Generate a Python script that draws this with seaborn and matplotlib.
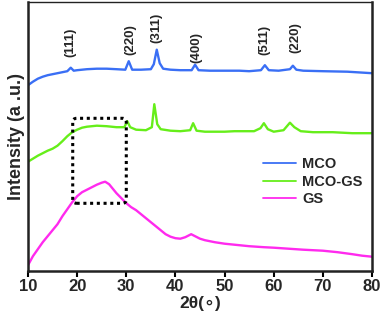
import numpy as np
import pandas as pd
import matplotlib
matplotlib.use("Agg")
import matplotlib.pyplot as plt
import seaborn as sns
from matplotlib.patches import FancyBboxPatch

# XRD patterns (2theta in degrees, intensity in arbitrary units, offsets included)
mco_x = [10, 11, 12, 13, 14, 15, 16, 17, 18, 18.7, 19.3, 20, 22, 24, 26, 28, 29.8, 30.5, 31.2,
         33, 35, 35.6, 36.2, 36.8, 37.5, 39, 41, 43.3, 44, 44.7, 47, 50, 53, 55, 57.4, 58.2,
         59, 61, 63.3, 63.9, 64.6, 66, 70, 75, 80]
mco_y = [187.5, 191, 194, 196, 197.5, 198.5, 199.5, 200.5, 201.5, 205, 202, 202.5, 203.5, 204,
         204, 203.5, 203, 211.5, 203, 203, 203.5, 208.5, 223, 209.5, 204, 203, 202.5, 202.5,
         208, 202.5, 202, 202, 202, 201.5, 202.5, 207.5, 202.5, 202, 203.5, 207, 203, 202,
         201.5, 201, 199.5]

mcogs_x = [10, 11, 12, 13, 14, 15, 16, 17, 18, 19, 20, 21, 22, 24, 26, 28, 29.6, 30.2, 30.8,
           32, 34, 35.2, 35.7, 36.3, 37, 39, 41, 43, 43.6, 44.3, 46, 48, 50, 52, 54, 56, 57.3,
           58, 58.8, 60, 62, 63.3, 64.2, 65.5, 68, 72, 76, 80]
mcogs_y = [111, 114, 117, 119.5, 122, 124, 127, 131.5, 136.5, 140.5, 143, 145, 146, 147, 146.5,
           145.5, 145.5, 151.5, 145.5, 143, 142.5, 145.5, 168.5, 148.5, 143.5, 142, 141.5,
           142.5, 149.5, 142, 141, 141, 141, 141.5, 141.5, 141.5, 144.5, 149.5, 143.5, 141,
           142.5, 150, 145.5, 141.5, 140.5, 140.5, 139.5, 139.5]

gs_x = [10, 11, 12, 13, 14, 15, 16, 17, 18, 19, 20, 21, 22, 23, 24, 25, 25.7, 26.5, 27, 28,
        29, 30, 31, 32, 33, 34, 35, 36, 37, 38, 39, 40, 41, 42, 43.2, 44, 45, 46, 47, 48, 50,
        52, 55, 58, 60, 63, 66, 70, 73, 76, 78, 80]
gs_y = [7.5, 16.5, 23.5, 30.5, 36.5, 42.5, 48.5, 56.5, 63.5, 70.5, 76.5, 80.5, 83, 85.5, 88,
        90, 91, 88.5, 85.5, 79.5, 74.5, 69.5, 65.5, 62.5, 58.5, 54.5, 50.5, 46.5, 42.5, 38.5,
        36, 34.5, 34, 35.5, 38.5, 36.5, 34, 32.5, 31.5, 30.5, 29, 28, 26.5, 25.5, 25, 24, 23,
        22, 20.5, 18.5, 17, 16]

# peak labels
peak_labels = ["(111)", "(220)", "(311)", "(400)", "(511)", "(220)"]
peak_pos = [18.7, 30.8, 36.2, 44.2, 58.2, 64.5]
label_base = [215.7, 217.7, 229.7, 209.7, 217.7, 219.7]

df = pd.concat([
    pd.DataFrame({"theta": mco_x, "I": mco_y, "sample": "MCO"}),
    pd.DataFrame({"theta": mcogs_x, "I": mcogs_y, "sample": "MCO-GS"}),
    pd.DataFrame({"theta": gs_x, "I": gs_y, "sample": "GS"}),
])
colors = {"MCO": "#3a6ff5", "MCO-GS": "#66ee1a", "GS": "#ff2aee"}

sns.set_style("white")
plt.rcParams["font.family"] = ["Liberation Sans", "DejaVu Sans"]
plt.rcParams["font.weight"] = "bold"

fig = plt.figure(figsize=(3.84, 3.22), dpi=100)
ax = fig.add_axes([28/384, 51/322, 344/384, 269/322])

sns.lineplot(data=df, x="theta", y="I", hue="sample", palette=colors, sort=False,
             estimator=None, linewidth=1.7, ax=ax)

for lab, px, py in zip(peak_labels, peak_pos, label_base):
    ax.text(px, py, lab, rotation=90, ha="center", va="bottom", fontsize=9.5, fontweight="bold")

box = FancyBboxPatch((19.1, 69.4), 10.9, 85.0, boxstyle="round,pad=0,rounding_size=0.8",
                     mutation_aspect=4.9, fill=False, edgecolor="black", linewidth=2.2,
                     linestyle=(0, (1, 1.2)), zorder=5)
ax.add_patch(box)

ax.set_xlim(10, 80)
ax.set_ylim(1.7, 270.7)
ax.set_xticks(range(10, 81, 10))
ax.set_yticks([])
ax.tick_params(axis="x", direction="out", length=4, width=1.5, labelsize=12, pad=2,
               bottom=True, color="black")
for lab in ax.get_xticklabels():
    lab.set_fontweight("bold")
for side in ["left", "bottom", "right"]:
    ax.spines[side].set_linewidth(1.8)
    ax.spines[side].set_color("#222222")
ax.spines["top"].set_linewidth(1.0)
ax.spines["top"].set_color("#222222")

ax.set_xlabel("2θ(∘)", fontsize=12.5, fontweight="bold", labelpad=1)
ax.set_ylabel("Intensity (a .u.)", fontsize=13, fontweight="bold", labelpad=2)

leg = ax.legend(loc="upper left", bbox_to_anchor=(0.665, 0.445), frameon=False,
                fontsize=10.5, handlelength=2.3, handletextpad=0.4, labelspacing=0.25,
                borderaxespad=0)
for t in leg.get_texts():
    t.set_fontweight("bold")
for ln in leg.get_lines():
    ln.set_linewidth(1.3)

fig.savefig("out.png", dpi=100)
